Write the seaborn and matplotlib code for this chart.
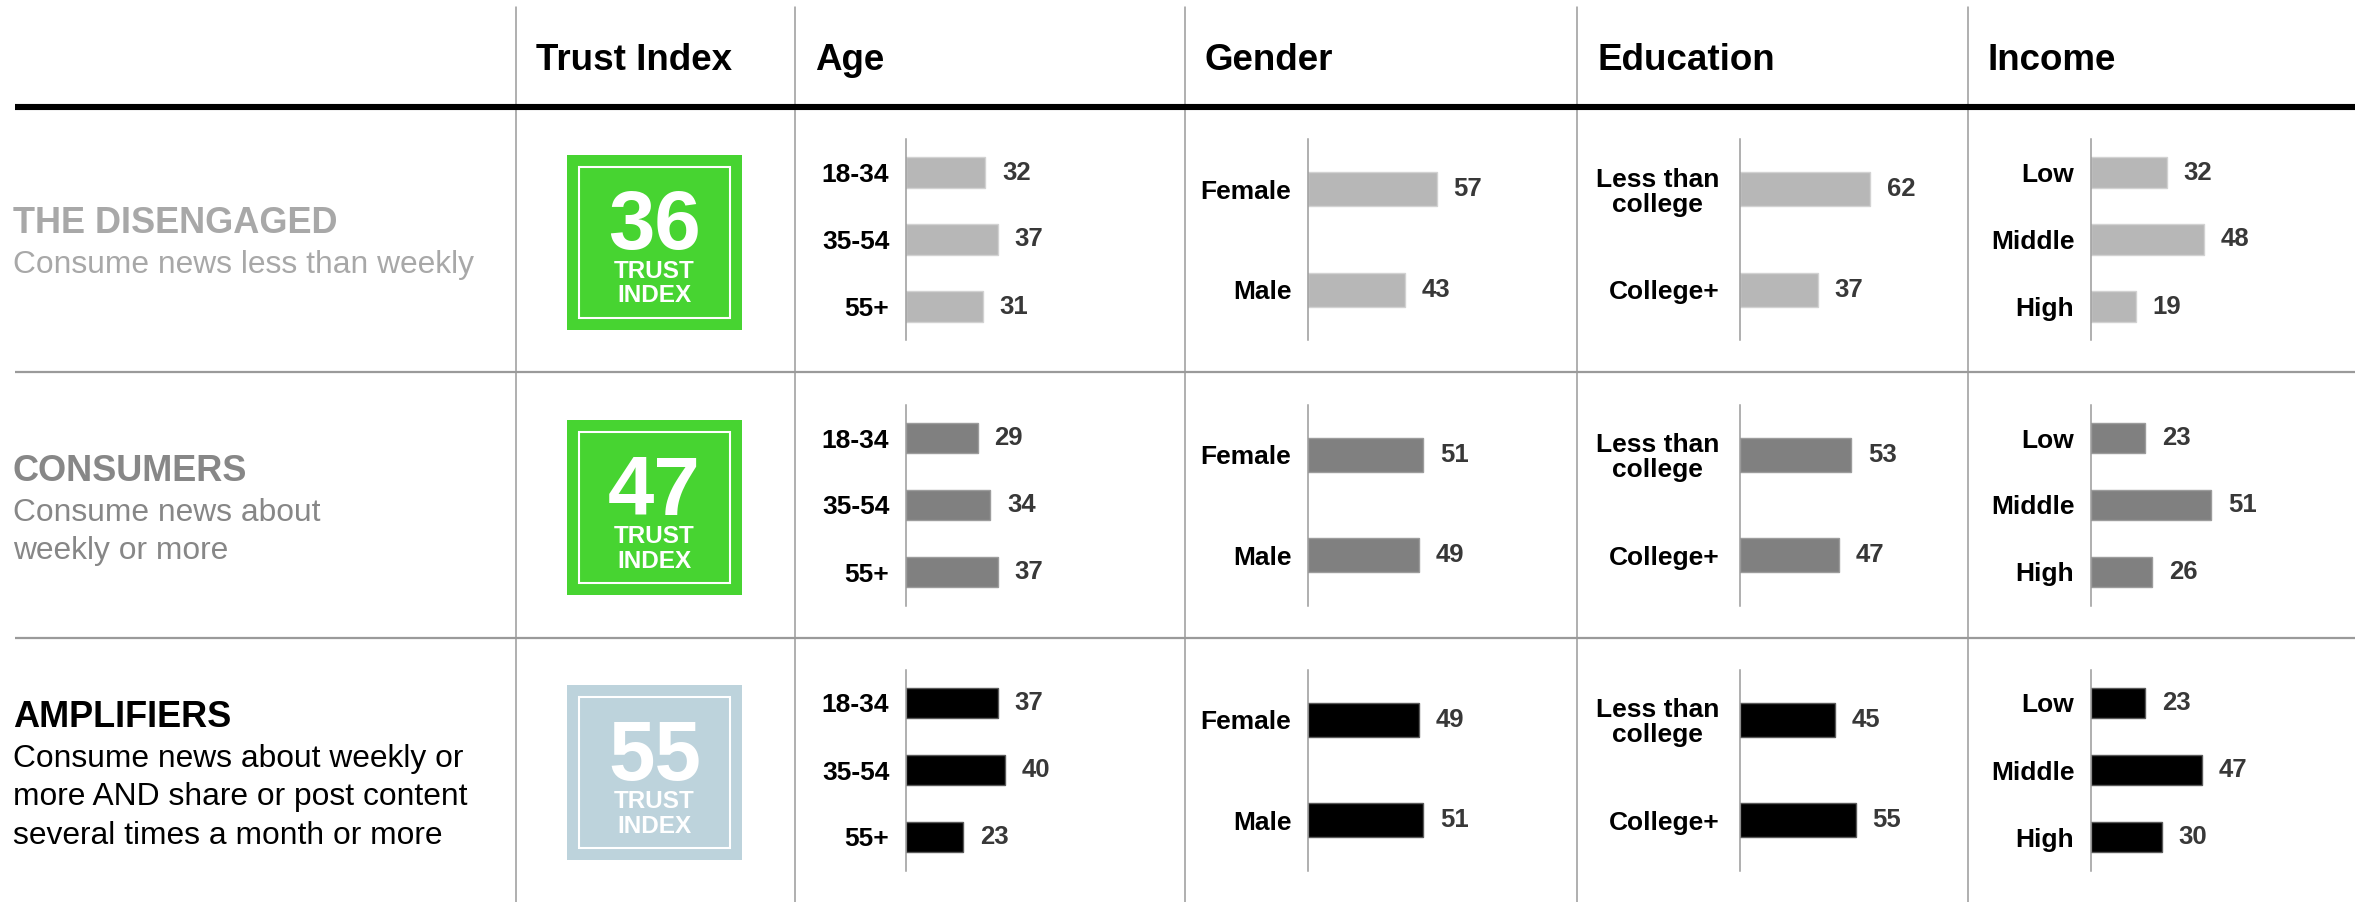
import matplotlib
matplotlib.use("Agg")
import matplotlib.pyplot as plt
from matplotlib.patches import Rectangle
import pandas as pd
import seaborn as sns

sns.set_style("white")
plt.rcParams["font.family"] = ["Liberation Sans", "DejaVu Sans"]

# ---- data -------------------------------------------------------------
segments = ["THE DISENGAGED", "CONSUMERS", "AMPLIFIERS"]
segment_notes = [
    ["Consume news less than weekly"],
    ["Consume news about", "weekly or more"],
    ["Consume news about weekly or", "more AND share or post content",
     "several times a month or more"],
]
trust_index = [36, 47, 55]
column_headers = ["Trust Index", "Age", "Gender", "Education", "Income"]

age_groups = ["18-34", "35-54", "55+"]
age_values = [[32, 37, 31], [29, 34, 37], [37, 40, 23]]

genders = ["Female", "Male"]
gender_values = [[57, 43], [51, 49], [49, 51]]

education_levels = ["Less than\ncollege", "College+"]
education_values = [[62, 37], [53, 47], [45, 55]]

income_levels = ["Low", "Middle", "High"]
income_values = [[32, 48, 19], [23, 51, 26], [23, 47, 30]]

# ---- styling ----------------------------------------------------------
segment_colors = ["#a8a8a8", "#878787", "#000000"]
bar_colors = ["#b7b7b7", "#808080", "#000000"]
bar_edges = ["#d2d2d2", "#9c9c9c", "#5a5a5a"]
badge_colors = ["#47d431", "#47d431", "#bdd3dc"]
rule_gray = "#9a9a9a"

W, H = 2364, 902
fig = plt.figure(figsize=(W / 100, H / 100), dpi=100)

# page layer in pixel units (y grows downward)
base = fig.add_axes([0, 0, 1, 1], zorder=0)
base.set_xlim(0, W)
base.set_ylim(H, 0)
base.axis("off")

col_x = [516, 795, 1185, 1577, 1968]
row_bounds = [107, 372, 638, H]
row_centers = [239.5, 505, 770]

for x in col_x:
    base.plot([x, x], [7, H], color=rule_gray, lw=1.1)
base.plot([15, 2355], [107, 107], color="black", lw=4.4, solid_capstyle="butt")
for y in row_bounds[1:3]:
    base.plot([15, 2355], [y, y], color=rule_gray, lw=1.6, solid_capstyle="butt")

for x, label in zip(col_x, column_headers):
    base.text(x + 20, 70, label, fontsize=26.5, fontweight="bold",
              color="black", va="baseline", ha="left")

# segment names and descriptions
title_baselines = [233, 481, 727]
for r, (name, notes) in enumerate(zip(segments, segment_notes)):
    yb = title_baselines[r]
    base.text(13, yb, name, fontsize=26, fontweight="bold",
              color=segment_colors[r], va="baseline", ha="left")
    for i, line in enumerate(notes):
        base.text(13, yb + 40 + 38.5 * i, line, fontsize=22.9,
                  color=segment_colors[r], va="baseline", ha="left")

# trust index badges
for r, value in enumerate(trust_index):
    top = row_centers[r] - 85
    left = 567
    base.add_patch(Rectangle((left, top), 175, 175, facecolor=badge_colors[r],
                             edgecolor="none"))
    base.add_patch(Rectangle((left + 12, top + 12), 151, 151, facecolor="none",
                             edgecolor="white", lw=1.5))
    cx = left + 87.5
    base.text(cx, top + 95, str(value), fontsize=60, fontweight="bold",
              color="white", ha="center", va="baseline")
    base.text(cx, top + 148, "TRUST\nINDEX", fontsize=17.5, fontweight="bold",
              color="white", ha="center", va="baseline",
              multialignment="center", linespacing=1.1)

# demographic bar panels: (labels, values, axis x, px per unit, bar width, label pad)
panels = [
    (age_groups, age_values, 906, 2.48, 0.45, 12),
    (genders, gender_values, 1308, 2.26, 0.34, 12),
    (education_levels, education_values, 1740, 2.10, 0.34, 15),
    (income_levels, income_values, 2091, 2.36, 0.45, 12),
]
panel_w, panel_h = 230, 201

for r in range(3):
    cy = row_centers[r]
    for labels, values, x0, ppu, bw, pad in panels:
        ax = fig.add_axes([x0 / W, 1 - (cy + panel_h / 2) / H,
                           panel_w / W, panel_h / H], zorder=2)
        ax.set_facecolor("none")
        df = pd.DataFrame({"group": labels, "value": values[r]})
        sns.barplot(data=df, x="value", y="group", orient="h",
                    color=bar_colors[r], saturation=1, width=bw, ax=ax,
                    edgecolor=bar_edges[r], linewidth=1.0, errorbar=None)
        ax.set_xlim(0, panel_w / ppu)
        ax.set_xticks([])
        ax.set_xlabel("")
        ax.set_ylabel("")
        ax.set_yticks(range(len(labels)))
        ax.set_yticklabels(labels, fontsize=19, fontweight="bold",
                           color="black", multialignment="center",
                           linespacing=1.05)
        ax.tick_params(axis="y", length=0, pad=pad)
        for side in ("top", "right", "bottom"):
            ax.spines[side].set_visible(False)
        ax.spines["left"].set_color(rule_gray)
        ax.spines["left"].set_linewidth(1.1)
        ax.bar_label(ax.containers[0], fmt="%g", padding=12, fontsize=18.5,
                     fontweight="bold", color="#383838")

fig.savefig("out.png", dpi=100, facecolor="white")
